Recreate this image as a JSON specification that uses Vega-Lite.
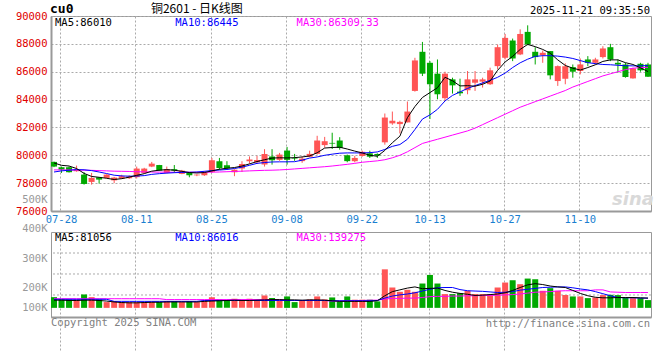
{
"$schema": "https://vega.github.io/schema/vega-lite/v6.json",
"padding": {"left": 14, "top": 2, "right": 5, "bottom": 5},
"background": "#ffffff",
"spacing": 21,
"bounds": "flush",
"config": {
  "view": {"stroke": "#999999", "strokeWidth": 1},
  "axis": {"labelFont": "DejaVu Sans Mono", "labelFontSize": 10.5, "ticks": false, "gridDash": [2,2], "gridColor": "#aaaaaa", "gridOpacity": 1, "domainColor": "#999999", "domainWidth": 2, "labelOverlap": false, "title": null, "tickCount": 30}
},
"datasets": {"k": [
{"d":"07-25","o":79525,"h":79550,"l":79150,"c":79190,"v":167300,"m5":79450,"m10":78800,"m30":78950,"vm5":157000,"vm10":160000,"vm30":162000},
{"d":"07-28","o":79142,"h":79190,"l":78734,"c":78971,"v":159600,"m5":79280,"m10":78880,"m30":78950,"vm5":157000,"vm10":160000,"vm30":162000},
{"d":"07-29","o":79142,"h":79190,"l":78760,"c":78784,"v":159600,"m5":79230,"m10":78930,"m30":78950,"vm5":156000,"vm10":160000,"vm30":162000},
{"d":"07-30","o":78856,"h":79261,"l":78820,"c":78971,"v":159600,"m5":79050,"m10":78970,"m30":78940,"vm5":156000,"vm10":160000,"vm30":162000},
{"d":"07-31","o":78614,"h":78784,"l":77894,"c":77942,"v":176400,"m5":78700,"m10":78960,"m30":78930,"vm5":157000,"vm10":160000,"vm30":162000},
{"d":"08-01","o":78086,"h":78734,"l":77894,"c":78374,"v":167300,"m5":78480,"m10":78900,"m30":78920,"vm5":157000,"vm10":160000,"vm30":162000},
{"d":"08-04","o":78422,"h":78440,"l":77966,"c":78254,"v":159600,"m5":78420,"m10":78800,"m30":78900,"vm5":156000,"vm10":160000,"vm30":162000},
{"d":"08-05","o":78374,"h":78640,"l":78350,"c":78614,"v":150500,"m5":78350,"m10":78690,"m30":78880,"vm5":154000,"vm10":160000,"vm30":162000},
{"d":"08-06","o":78200,"h":78450,"l":78000,"c":78400,"v":152900,"m5":78260,"m10":78570,"m30":78860,"vm5":151000,"vm10":153000,"vm30":162000},
{"d":"08-07","o":78330,"h":78600,"l":78300,"c":78500,"v":150500,"m5":78320,"m10":78520,"m30":78850,"vm5":149000,"vm10":153000,"vm30":162000},
{"d":"08-08","o":78350,"h":78560,"l":78300,"c":78480,"v":150500,"m5":78430,"m10":78500,"m30":78840,"vm5":148000,"vm10":153000,"vm30":162000},
{"d":"08-11","o":78430,"h":79190,"l":78330,"c":79045,"v":150500,"m5":78560,"m10":78510,"m30":78820,"vm5":148000,"vm10":153000,"vm30":162000},
{"d":"08-12","o":78734,"h":79100,"l":78700,"c":79045,"v":150500,"m5":78680,"m10":78540,"m30":78810,"vm5":149000,"vm10":153000,"vm30":162000},
{"d":"08-13","o":79190,"h":79525,"l":79150,"c":79400,"v":150500,"m5":78860,"m10":78630,"m30":78800,"vm5":150000,"vm10":153000,"vm30":162000},
{"d":"08-14","o":79300,"h":79310,"l":78880,"c":78900,"v":150500,"m5":78930,"m10":78680,"m30":78790,"vm5":150000,"vm10":153000,"vm30":162000},
{"d":"08-15","o":78734,"h":79190,"l":78700,"c":79000,"v":153900,"m5":78970,"m10":78720,"m30":78790,"vm5":151000,"vm10":153000,"vm30":159000},
{"d":"08-18","o":79000,"h":79300,"l":78734,"c":78900,"v":153900,"m5":78930,"m10":78750,"m30":78780,"vm5":151000,"vm10":153000,"vm30":159000},
{"d":"08-19","o":78662,"h":78950,"l":78640,"c":78899,"v":150500,"m5":78850,"m10":78770,"m30":78780,"vm5":151000,"vm10":153000,"vm30":159000},
{"d":"08-20","o":78734,"h":78760,"l":78420,"c":78566,"v":153900,"m5":78760,"m10":78780,"m30":78780,"vm5":151000,"vm10":153000,"vm30":159000},
{"d":"08-21","o":78560,"h":78640,"l":78500,"c":78614,"v":150500,"m5":78730,"m10":78800,"m30":78780,"vm5":151000,"vm10":153000,"vm30":159000},
{"d":"08-22","o":78566,"h":78856,"l":78520,"c":78734,"v":156000,"m5":78760,"m10":78850,"m30":78780,"vm5":153000,"vm10":156000,"vm30":159000},
{"d":"08-25","o":78806,"h":79810,"l":78734,"c":79647,"v":167300,"m5":78880,"m10":78900,"m30":78790,"vm5":154000,"vm10":156000,"vm30":159000},
{"d":"08-26","o":79575,"h":79810,"l":78950,"c":79093,"v":159600,"m5":79000,"m10":78940,"m30":78800,"vm5":155000,"vm10":156000,"vm30":159000},
{"d":"08-27","o":79290,"h":79575,"l":79000,"c":79070,"v":156000,"m5":79070,"m10":78980,"m30":78820,"vm5":156000,"vm10":156000,"vm30":159000},
{"d":"08-28","o":78785,"h":79000,"l":78500,"c":78970,"v":161900,"m5":79120,"m10":79050,"m30":78840,"vm5":157000,"vm10":156000,"vm30":159000},
{"d":"08-29","o":79043,"h":79575,"l":78800,"c":79380,"v":156000,"m5":79230,"m10":79150,"m30":78860,"vm5":156000,"vm10":156000,"vm30":159000},
{"d":"09-01","o":79575,"h":79920,"l":79400,"c":79690,"v":161900,"m5":79380,"m10":79280,"m30":78880,"vm5":156000,"vm10":156000,"vm30":159000},
{"d":"09-02","o":79500,"h":79960,"l":79380,"c":79670,"v":156000,"m5":79550,"m10":79420,"m30":78900,"vm5":157000,"vm10":156000,"vm30":159000},
{"d":"09-03","o":79330,"h":80440,"l":79190,"c":80100,"v":173000,"m5":79680,"m10":79480,"m30":78920,"vm5":158000,"vm10":156000,"vm30":159000},
{"d":"09-04","o":79910,"h":80440,"l":79330,"c":79650,"v":164000,"m5":79800,"m10":79520,"m30":78930,"vm5":159000,"vm10":156000,"vm30":159000},
{"d":"09-05","o":79670,"h":80170,"l":79600,"c":80050,"v":156000,"m5":79820,"m10":79530,"m30":78950,"vm5":159000,"vm10":156000,"vm30":159000},
{"d":"09-08","o":80340,"h":80600,"l":79330,"c":79670,"v":169700,"m5":79810,"m10":79530,"m30":78980,"vm5":158000,"vm10":156000,"vm30":156000},
{"d":"09-09","o":79780,"h":80100,"l":79600,"c":79740,"v":150500,"m5":79830,"m10":79540,"m30":79020,"vm5":158000,"vm10":156000,"vm30":156000},
{"d":"09-10","o":79580,"h":79920,"l":79460,"c":79760,"v":156000,"m5":79880,"m10":79650,"m30":79060,"vm5":157000,"vm10":156000,"vm30":156000},
{"d":"09-11","o":79890,"h":80330,"l":79860,"c":80100,"v":159600,"m5":79950,"m10":79800,"m30":79100,"vm5":158000,"vm10":156000,"vm30":156000},
{"d":"09-12","o":80100,"h":81400,"l":80050,"c":81060,"v":169700,"m5":80180,"m10":79880,"m30":79140,"vm5":158000,"vm10":156000,"vm30":156000},
{"d":"09-15","o":80730,"h":81320,"l":80560,"c":81010,"v":159600,"m5":80520,"m10":80000,"m30":79180,"vm5":157000,"vm10":156000,"vm30":156000},
{"d":"09-16","o":80890,"h":81620,"l":80450,"c":80840,"v":166300,"m5":80560,"m10":80080,"m30":79230,"vm5":155000,"vm10":155000,"vm30":154000},
{"d":"09-17","o":81060,"h":81300,"l":80400,"c":80530,"v":152900,"m5":80580,"m10":80150,"m30":79290,"vm5":153000,"vm10":155000,"vm30":154000},
{"d":"09-18","o":80000,"h":80050,"l":79500,"c":79580,"v":169700,"m5":80450,"m10":80170,"m30":79350,"vm5":153000,"vm10":155000,"vm30":155000},
{"d":"09-19","o":79575,"h":79960,"l":79500,"c":79810,"v":158600,"m5":80300,"m10":80170,"m30":79420,"vm5":153000,"vm10":155000,"vm30":156000},
{"d":"09-22","o":79950,"h":80330,"l":79900,"c":80250,"v":158600,"m5":80170,"m10":80170,"m30":79500,"vm5":153000,"vm10":155000,"vm30":156000},
{"d":"09-23","o":80140,"h":80330,"l":79810,"c":79900,"v":158600,"m5":80000,"m10":80190,"m30":79550,"vm5":153000,"vm10":155000,"vm30":157000},
{"d":"09-24","o":80095,"h":80140,"l":79810,"c":79980,"v":152900,"m5":79930,"m10":80240,"m30":79600,"vm5":155000,"vm10":156000,"vm30":157000},
{"d":"09-25","o":80930,"h":83000,"l":80760,"c":82710,"v":261600,"m5":80350,"m10":80420,"m30":79680,"vm5":172000,"vm10":164000,"vm30":161000},
{"d":"09-26","o":82290,"h":83140,"l":82190,"c":82480,"v":200000,"m5":80900,"m10":80640,"m30":79820,"vm5":186000,"vm10":171000,"vm30":163000},
{"d":"09-29","o":82240,"h":82480,"l":81570,"c":82400,"v":185400,"m5":81370,"m10":80770,"m30":80000,"vm5":192000,"vm10":175000,"vm30":163000},
{"d":"09-30","o":82360,"h":83860,"l":82360,"c":83140,"v":192200,"m5":82700,"m10":81150,"m30":80250,"vm5":198000,"vm10":178000,"vm30":164000},
{"d":"10-09","o":84620,"h":87000,"l":84570,"c":86810,"v":185400,"m5":83500,"m10":81850,"m30":80550,"vm5":202000,"vm10":182000,"vm30":164000},
{"d":"10-10","o":87430,"h":88140,"l":85690,"c":85860,"v":213500,"m5":84150,"m10":82600,"m30":80850,"vm5":196000,"vm10":188000,"vm30":166000},
{"d":"10-13","o":86640,"h":86760,"l":82600,"c":85100,"v":242600,"m5":84500,"m10":82900,"m30":81000,"vm5":197000,"vm10":194000,"vm30":169000},
{"d":"10-14","o":85860,"h":86880,"l":84020,"c":84380,"v":213500,"m5":84850,"m10":83300,"m30":81150,"vm5":198000,"vm10":199000,"vm30":170000},
{"d":"10-15","o":84100,"h":86000,"l":83900,"c":85860,"v":177600,"m5":85600,"m10":83900,"m30":81300,"vm5":190000,"vm10":200000,"vm30":170000},
{"d":"10-16","o":85450,"h":85570,"l":84430,"c":85020,"v":177600,"m5":85350,"m10":84300,"m30":81450,"vm5":184000,"vm10":200000,"vm30":171000},
{"d":"10-17","o":84570,"h":85500,"l":84260,"c":84450,"v":180800,"m5":84980,"m10":84550,"m30":81600,"vm5":180000,"vm10":193000,"vm30":171000},
{"d":"10-20","o":84670,"h":86050,"l":84380,"c":85450,"v":188800,"m5":85000,"m10":84800,"m30":81750,"vm5":177000,"vm10":189000,"vm30":172000},
{"d":"10-21","o":85210,"h":86050,"l":84620,"c":85450,"v":177600,"m5":84960,"m10":85000,"m30":81950,"vm5":173000,"vm10":188000,"vm30":172000},
{"d":"10-22","o":85290,"h":85570,"l":84860,"c":85450,"v":177600,"m5":85100,"m10":85200,"m30":82200,"vm5":174000,"vm10":187000,"vm30":173000},
{"d":"10-23","o":85100,"h":86290,"l":85050,"c":86100,"v":177600,"m5":85330,"m10":85380,"m30":82450,"vm5":176000,"vm10":185000,"vm30":173000},
{"d":"10-24","o":86400,"h":87950,"l":86170,"c":87760,"v":200000,"m5":86100,"m10":85600,"m30":82700,"vm5":178000,"vm10":183000,"vm30":174000},
{"d":"10-27","o":87000,"h":88710,"l":86880,"c":88430,"v":216800,"m5":86700,"m10":85900,"m30":82950,"vm5":182000,"vm10":184000,"vm30":175000},
{"d":"10-28","o":88240,"h":88380,"l":86760,"c":86950,"v":224600,"m5":87100,"m10":86300,"m30":83200,"vm5":190000,"vm10":186000,"vm30":176000},
{"d":"10-29","o":87240,"h":89040,"l":87190,"c":88710,"v":211200,"m5":87600,"m10":86640,"m30":83450,"vm5":200000,"vm10":191000,"vm30":178000},
{"d":"10-30","o":88860,"h":89330,"l":87900,"c":87950,"v":230300,"m5":87960,"m10":86900,"m30":83650,"vm5":209000,"vm10":194000,"vm30":181000},
{"d":"10-31","o":87430,"h":87760,"l":86520,"c":87050,"v":228000,"m5":87800,"m10":87100,"m30":83850,"vm5":213000,"vm10":197000,"vm30":184000},
{"d":"11-03","o":87190,"h":87520,"l":86640,"c":87360,"v":188800,"m5":87600,"m10":87150,"m30":84050,"vm5":210000,"vm10":200000,"vm30":185000},
{"d":"11-04","o":87480,"h":87480,"l":85450,"c":85740,"v":197800,"m5":87330,"m10":87150,"m30":84250,"vm5":205000,"vm10":201000,"vm30":186000},
{"d":"11-05","o":85330,"h":86450,"l":84980,"c":86400,"v":188800,"m5":86850,"m10":87120,"m30":84450,"vm5":202000,"vm10":202000,"vm30":188000},
{"d":"11-06","o":85500,"h":86600,"l":85100,"c":86400,"v":174200,"m5":86450,"m10":87050,"m30":84650,"vm5":200000,"vm10":202000,"vm30":189000},
{"d":"11-07","o":86330,"h":86520,"l":85570,"c":86000,"v":169700,"m5":86250,"m10":86950,"m30":84900,"vm5":190000,"vm10":199000,"vm30":189000},
{"d":"11-10","o":86050,"h":86950,"l":85810,"c":86520,"v":169700,"m5":86120,"m10":86800,"m30":85100,"vm5":180000,"vm10":195000,"vm30":189000},
{"d":"11-11","o":86880,"h":87120,"l":86400,"c":86640,"v":164000,"m5":86300,"m10":86650,"m30":85300,"vm5":172000,"vm10":192000,"vm30":189000},
{"d":"11-12","o":86640,"h":87000,"l":86520,"c":86880,"v":166300,"m5":86500,"m10":86580,"m30":85500,"vm5":167000,"vm10":186000,"vm30":192000},
{"d":"11-13","o":87050,"h":87830,"l":86950,"c":87670,"v":174200,"m5":86740,"m10":86520,"m30":85700,"vm5":165000,"vm10":179000,"vm30":192000},
{"d":"11-14","o":87760,"h":88000,"l":86760,"c":86880,"v":175300,"m5":86850,"m10":86500,"m30":85850,"vm5":165000,"vm10":172000,"vm30":185000},
{"d":"11-17","o":86640,"h":86880,"l":85930,"c":86520,"v":174200,"m5":86850,"m10":86460,"m30":86000,"vm5":166000,"vm10":166000,"vm30":184000},
{"d":"11-18","o":86520,"h":86640,"l":85570,"c":85620,"v":166300,"m5":86650,"m10":86430,"m30":86150,"vm5":166000,"vm10":165000,"vm30":183000},
{"d":"11-19","o":85520,"h":86290,"l":85500,"c":86240,"v":164000,"m5":86520,"m10":86420,"m30":86250,"vm5":166000,"vm10":165000,"vm30":183000},
{"d":"11-20","o":86570,"h":86640,"l":86000,"c":86100,"v":164000,"m5":86280,"m10":86420,"m30":86300,"vm5":165000,"vm10":164000,"vm30":183000},
{"d":"11-21","o":86520,"h":86640,"l":85620,"c":85640,"v":157300,"m5":86010,"m10":86445,"m30":86310,"vm5":164000,"vm10":164000,"vm30":183000}
]},
"vconcat": [
{
 "width": 600, "height": 195,
 "data": {"name": "k"},
 "layer": [
  {"mark": {"type": "rule", "strokeWidth": 1},
   "encoding": {
    "x": {"field": "d", "type": "ordinal", "title": null,
          "scale": {"paddingInner": 0.2, "paddingOuter": 0},
          "axis": {"values": ["07-28","08-11","08-25","09-08","09-22","10-13","10-27","11-10"], "bandPosition": 0.35, "grid": true, "labelColor": "#1a7fd0", "labelPadding": 3, "labelAngle": 0}},
    "y": {"field": "l", "type": "quantitative", "title": null,
          "scale": {"domain": [76000, 90000], "nice": false, "zero": false},
          "axis": {"values": [76000,78000,80000,82000,84000,86000,88000,90000], "tickCount": 30, "grid": true, "labelColor": "#e00000", "labelPadding": 4, "format": "d"}},
    "y2": {"field": "h"},
    "color": {"condition": {"test": "datum.c >= datum.o", "value": "#ff5555"}, "value": "#00a800"}
   }},
  {"mark": {"type": "bar"},
   "encoding": {
    "x": {"field": "d", "type": "ordinal", "title": null},
    "y": {"field": "o", "type": "quantitative", "title": null},
    "y2": {"field": "c"},
    "color": {"condition": {"test": "datum.c >= datum.o", "value": "#ff5555"}, "value": "#00a800"}
   }},
  {"mark": {"type": "line", "color": "#ff00ff", "strokeWidth": 1},
   "encoding": {"x": {"field": "d", "type": "ordinal", "title": null}, "y": {"field": "m30", "type": "quantitative", "title": null}}},
  {"mark": {"type": "line", "color": "#0000ff", "strokeWidth": 1},
   "encoding": {"x": {"field": "d", "type": "ordinal", "title": null}, "y": {"field": "m10", "type": "quantitative", "title": null}}},
  {"mark": {"type": "line", "color": "#000000", "strokeWidth": 1},
   "encoding": {"x": {"field": "d", "type": "ordinal", "title": null}, "y": {"field": "m5", "type": "quantitative", "title": null}}},
  {"data": {"values": [{"t": "sina"}]},
   "mark": {"type": "text", "align": "center", "baseline": "alphabetic", "font": "DejaVu Sans", "fontSize": 18, "fontWeight": "bold", "fontStyle": "italic", "color": "#d9d9d9"},
   "encoding": {"text": {"field": "t"}, "x": {"datum": "11-19", "type": "ordinal"}, "y": {"datum": 76450, "type": "quantitative"}}},
  {"data": {"values": [{"t": "cu0"}]},
   "mark": {"type": "text", "align": "left", "baseline": "alphabetic", "dx": -1, "dy": -3, "font": "DejaVu Sans Mono", "fontSize": 13, "fontWeight": "bold", "color": "#000000"},
   "encoding": {"text": {"field": "t"}, "x": {"datum": "07-25", "type": "ordinal", "bandPosition": 0}, "y": {"datum": 90000, "type": "quantitative"}}},
  {"data": {"values": [{"t": "铜2601 - 日K线图"}]},
   "mark": {"type": "text", "align": "center", "baseline": "alphabetic", "dy": -3, "font": "Noto Sans CJK SC", "fontSize": 12, "color": "#000000"},
   "encoding": {"text": {"field": "t"}, "x": {"datum": "08-21", "type": "ordinal"}, "y": {"datum": 90000, "type": "quantitative"}}},
  {"data": {"values": [{"t": "2025-11-21 09:35:50"}]},
   "mark": {"type": "text", "align": "right", "baseline": "alphabetic", "dx": -1, "dy": -2, "font": "DejaVu Sans Mono", "fontSize": 10.5, "color": "#000000"},
   "encoding": {"text": {"field": "t"}, "x": {"datum": "11-21", "type": "ordinal", "bandPosition": 1}, "y": {"datum": 90000, "type": "quantitative"}}},
  {"data": {"values": [{"t": "MA5:86010"}]},
   "mark": {"type": "text", "align": "left", "baseline": "top", "dx": 4, "dy": 2, "font": "DejaVu Sans Mono", "fontSize": 10.5, "color": "#000000"},
   "encoding": {"text": {"field": "t"}, "x": {"datum": "07-25", "type": "ordinal", "bandPosition": 0}, "y": {"datum": 90000, "type": "quantitative"}}},
  {"data": {"values": [{"t": "MA10:86445"}]},
   "mark": {"type": "text", "align": "left", "baseline": "top", "dx": 4, "dy": 2, "font": "DejaVu Sans Mono", "fontSize": 10.5, "color": "#0000ff"},
   "encoding": {"text": {"field": "t"}, "x": {"datum": "08-18", "type": "ordinal", "bandPosition": 0}, "y": {"datum": 90000, "type": "quantitative"}}},
  {"data": {"values": [{"t": "MA30:86309.33"}]},
   "mark": {"type": "text", "align": "left", "baseline": "top", "dx": 5, "dy": 2, "font": "DejaVu Sans Mono", "fontSize": 10.5, "color": "#ff00ff"},
   "encoding": {"text": {"field": "t"}, "x": {"datum": "09-09", "type": "ordinal", "bandPosition": 0}, "y": {"datum": 90000, "type": "quantitative"}}}
 ]
},
{
 "width": 600, "height": 85,
 "data": {"name": "k"},
 "layer": [
  {"data": {"values": [{"g": 316900}, {"g": 245800}, {"g": 174600}]},
   "mark": {"type": "rule", "color": "#aaaaaa", "strokeDash": [2,2], "strokeWidth": 1},
   "encoding": {"y": {"field": "g", "type": "quantitative", "title": null}}},
  {"mark": {"type": "bar"},
   "encoding": {
    "x": {"field": "d", "type": "ordinal", "title": null,
          "scale": {"paddingInner": 0.2, "paddingOuter": 0},
          "axis": {"values": ["07-28","08-11","08-25","09-08","09-22","10-13","10-27","11-10"], "bandPosition": 0.35, "grid": true, "labels": false}},
    "y": {"field": "v", "type": "quantitative", "title": null,
          "scale": {"domain": [100000, 500000], "range": [85, -33], "nice": false, "zero": false},
          "axis": {"values": [100000,200000,300000,400000,500000], "tickCount": 30, "grid": false, "domain": false, "labelColor": "#999999", "labelPadding": 4,
                   "labelExpr": "(datum.value/1000) + 'K'",
                   "labelOffset": {"condition": {"test": "datum.value == 100000", "value": -10}, "value": 0}}},
    "y2": {"datum": 131000},
    "color": {"condition": {"test": "datum.c >= datum.o", "value": "#ff5555"}, "value": "#00a800"}
   }},
  {"mark": {"type": "line", "color": "#ff00ff", "strokeWidth": 1},
   "encoding": {"x": {"field": "d", "type": "ordinal", "title": null}, "y": {"field": "vm30", "type": "quantitative", "title": null}}},
  {"mark": {"type": "line", "color": "#0000ff", "strokeWidth": 1},
   "encoding": {"x": {"field": "d", "type": "ordinal", "title": null}, "y": {"field": "vm10", "type": "quantitative", "title": null}}},
  {"mark": {"type": "line", "color": "#000000", "strokeWidth": 1},
   "encoding": {"x": {"field": "d", "type": "ordinal", "title": null}, "y": {"field": "vm5", "type": "quantitative", "title": null}}},
  {"data": {"values": [{"t": "MA5:81056"}]},
   "mark": {"type": "text", "align": "left", "baseline": "top", "dx": 4, "dy": 1, "font": "DejaVu Sans Mono", "fontSize": 10.5, "color": "#000000"},
   "encoding": {"text": {"field": "t"}, "x": {"datum": "07-25", "type": "ordinal", "bandPosition": 0}, "y": {"datum": 388136, "type": "quantitative"}}},
  {"data": {"values": [{"t": "MA10:86016"}]},
   "mark": {"type": "text", "align": "left", "baseline": "top", "dx": 4, "dy": 1, "font": "DejaVu Sans Mono", "fontSize": 10.5, "color": "#0000ff"},
   "encoding": {"text": {"field": "t"}, "x": {"datum": "08-18", "type": "ordinal", "bandPosition": 0}, "y": {"datum": 388136, "type": "quantitative"}}},
  {"data": {"values": [{"t": "MA30:139275"}]},
   "mark": {"type": "text", "align": "left", "baseline": "top", "dx": 5, "dy": 1, "font": "DejaVu Sans Mono", "fontSize": 10.5, "color": "#ff00ff"},
   "encoding": {"text": {"field": "t"}, "x": {"datum": "09-09", "type": "ordinal", "bandPosition": 0}, "y": {"datum": 388136, "type": "quantitative"}}},
  {"data": {"values": [{"t": "Copyright 2025 SINA.COM"}]},
   "mark": {"type": "text", "align": "left", "baseline": "top", "dx": 0, "dy": 1, "font": "DejaVu Sans Mono", "fontSize": 10.5, "color": "#808080"},
   "encoding": {"text": {"field": "t"}, "x": {"datum": "07-25", "type": "ordinal", "bandPosition": 0}, "y": {"datum": 100000, "type": "quantitative"}}},
  {"data": {"values": [{"t": "http://finance.sina.com.cn"}]},
   "mark": {"type": "text", "align": "right", "baseline": "top", "dx": -1, "dy": 2, "font": "DejaVu Sans Mono", "fontSize": 10.5, "color": "#808080"},
   "encoding": {"text": {"field": "t"}, "x": {"datum": "11-21", "type": "ordinal", "bandPosition": 1}, "y": {"datum": 100000, "type": "quantitative"}}}
 ]
}
]
}
